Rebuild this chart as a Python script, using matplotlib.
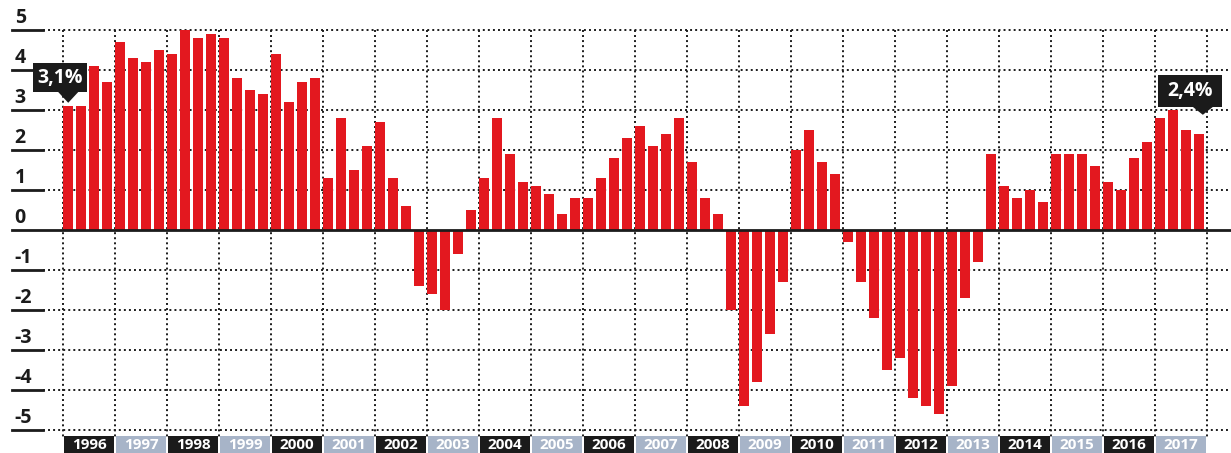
import matplotlib.pyplot as plt
from matplotlib.patches import Rectangle, Polygon

plt.rcParams['font.family'] = ['Open Sans', 'DejaVu Sans']

# quarterly growth, %
years = list(range(1996, 2018))
values = [
    3.1, 3.1, 4.1, 3.7,    # 1996
    4.7, 4.3, 4.2, 4.5,    # 1997
    4.4, 5.0, 4.8, 4.9,    # 1998
    4.8, 3.8, 3.5, 3.4,    # 1999
    4.4, 3.2, 3.7, 3.8,    # 2000
    1.3, 2.8, 1.5, 2.1,    # 2001
    2.7, 1.3, 0.6, -1.4,   # 2002
    -1.6, -2.0, -0.6, 0.5, # 2003
    1.3, 2.8, 1.9, 1.2,    # 2004
    1.1, 0.9, 0.4, 0.8,    # 2005
    0.8, 1.3, 1.8, 2.3,    # 2006
    2.6, 2.1, 2.4, 2.8,    # 2007
    1.7, 0.8, 0.4, -2.0,   # 2008
    -4.4, -3.8, -2.6, -1.3, # 2009
    2.0, 2.5, 1.7, 1.4,    # 2010
    -0.3, -1.3, -2.2, -3.5, # 2011
    -3.2, -4.2, -4.4, -4.6, # 2012
    -3.9, -1.7, -0.8, 1.9, # 2013
    1.1, 0.8, 1.0, 0.7,    # 2014
    1.9, 1.9, 1.9, 1.6,    # 2015
    1.2, 1.0, 1.8, 2.2,    # 2016
    2.8, 3.0, 2.5, 2.4,    # 2017
]
y_ticks = [5, 4, 3, 2, 1, 0, -1, -2, -3, -4, -5]
first_label = "3,1%"
last_label = "2,4%"

RED = '#e3181f'
DARK = '#1b1b1b'
GREY = '#a7b4c8'

fig = plt.figure(figsize=(12.31, 4.53), dpi=100)
ax = fig.add_axes([0, 0, 1, 1])
ax.set_xlim(1994.788, 2018.4615)
ax.set_ylim(-5.575, 5.75)
ax.axis('off')

x_left_lbl = 1995.02
x_grid_start = 1995.615
x_end = 2018.4615
y_band_top = -5.15

# horizontal grid
for v in y_ticks:
    if v == 0:
        ax.plot([x_left_lbl, x_end], [0, 0], color=DARK, lw=2, zorder=4)
    else:
        ax.plot([x_left_lbl, x_grid_start], [v, v], color=DARK, lw=2, zorder=3)
        ax.plot([x_grid_start, x_end], [v, v], color=DARK, lw=1.4,
                ls=(0, (1, 1.6)), zorder=1)
    ax.text(x_left_lbl + 0.05, v + 0.06, str(v), ha='left', va='bottom',
            fontsize=14, fontweight='bold', color=DARK)

# vertical grid
for yr in years + [years[-1] + 1]:
    ax.plot([yr, yr], [5, y_band_top - 0.03], color=DARK, lw=1.4,
            ls=(0, (1, 1.6)), zorder=1)

# bars
xs = [years[0] + i * 0.25 for i in range(len(values))]
ax.bar(xs, values, width=0.19, align='edge', color=RED, zorder=2)

# year band
for i, yr in enumerate(years):
    c = DARK if i % 2 == 0 else GREY
    ax.add_patch(Rectangle((yr + 0.02, -5.6), 0.96, 5.6 + y_band_top,
                           facecolor=c, edgecolor='none', zorder=3))
    ax.text(yr + 0.5, (y_band_top - 5.575) / 2 - 0.02, str(yr), ha='center',
            va='center', fontsize=11, fontweight='bold', color='white', zorder=4)


def callout(x0, x1, y0, y1, tip_x, tip_y, text):
    ax.add_patch(Rectangle((x0, y0), x1 - x0, y1 - y0, facecolor=DARK,
                           edgecolor='none', zorder=5))
    ax.add_patch(Polygon([[tip_x - 0.2, y0 + 0.01], [tip_x + 0.2, y0 + 0.01],
                          [tip_x, tip_y]], closed=True, facecolor=DARK,
                         edgecolor='none', zorder=5))
    ax.text((x0 + x1) / 2, (y0 + y1) / 2, text, ha='center', va='center',
            fontsize=14, fontweight='bold', color='white', zorder=6)


callout(1995.42, 1996.46, 3.45, 4.175, xs[0] + 0.1, values[0] + 0.08, first_label)
callout(2017.06, 2018.29, 3.075, 3.875, xs[-1] + 0.17, values[-1] + 0.48, last_label)

fig.savefig('out.png', dpi=100)
